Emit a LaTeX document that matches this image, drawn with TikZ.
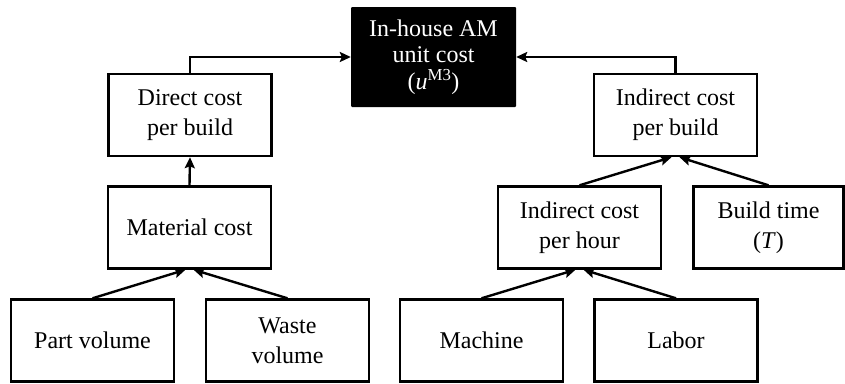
\documentclass[tikz,border=0pt]{standalone}
\usepackage{fontspec}
\setmainfont{Liberation Serif}
\usetikzlibrary{arrows.meta}
\begin{document}
\begin{tikzpicture}[x=1pt,y=-1pt,
  box/.style={draw=black, line width=2.4pt, fill=white, minimum width=163pt, minimum height=82pt,
    inner sep=0pt, align=center, font=\fontsize{24}{30}\selectfont},
  topbox/.style={fill=black, text=white, rounded corners=1pt, minimum width=165pt, minimum height=100pt,
    inner sep=0pt, align=center, font=\fontsize{24}{26.5}\selectfont},
  conn/.style={line width=2.4pt, -{Stealth[length=11pt,width=10pt,inset=2pt]}}]
\useasboundingbox (0,0) rectangle (845,383);
\node[topbox] (top) at (433.5,57) {In-house AM\\unit cost\\(\textit{u}\textsuperscript{M3})};
\node[box] (dcb) at (190,115) {Direct cost\\per build};
\node[box] (icb) at (675.5,115) {Indirect cost\\per build};
\node[box] (mc) at (189.5,227.5) {Material cost};
\node[box] (icph) at (579.5,227.5) {Indirect cost\\per hour};
\node[box, minimum width=150pt] (bt) at (768.5,227.5) {Build time\\(\textit{T})};
\node[box] (pv) at (92.5,340.5) {Part volume};
\node[box] (wv) at (287.5,340.5) {Waste\\volume};
\node[box] (mach) at (481.5,340.5) {Machine};
\node[box] (lab) at (676,340.5) {Labor};
\draw[conn] (dcb.north) |- (top.west);
\draw[conn] (icb.north) |- (top.east);
\draw[conn] (mc.north) -- (dcb.south);
\draw[conn] (pv.north) -- ([xshift=-4pt]mc.south);
\draw[conn] (wv.north) -- ([xshift=4pt]mc.south);
\draw[conn] (icph.north) -- ([xshift=-4pt]icb.south);
\draw[conn] (bt.north) -- ([xshift=4pt]icb.south);
\draw[conn] (mach.north) -- ([xshift=-4pt]icph.south);
\draw[conn] (lab.north) -- ([xshift=4pt]icph.south);
\end{tikzpicture}
\end{document}
